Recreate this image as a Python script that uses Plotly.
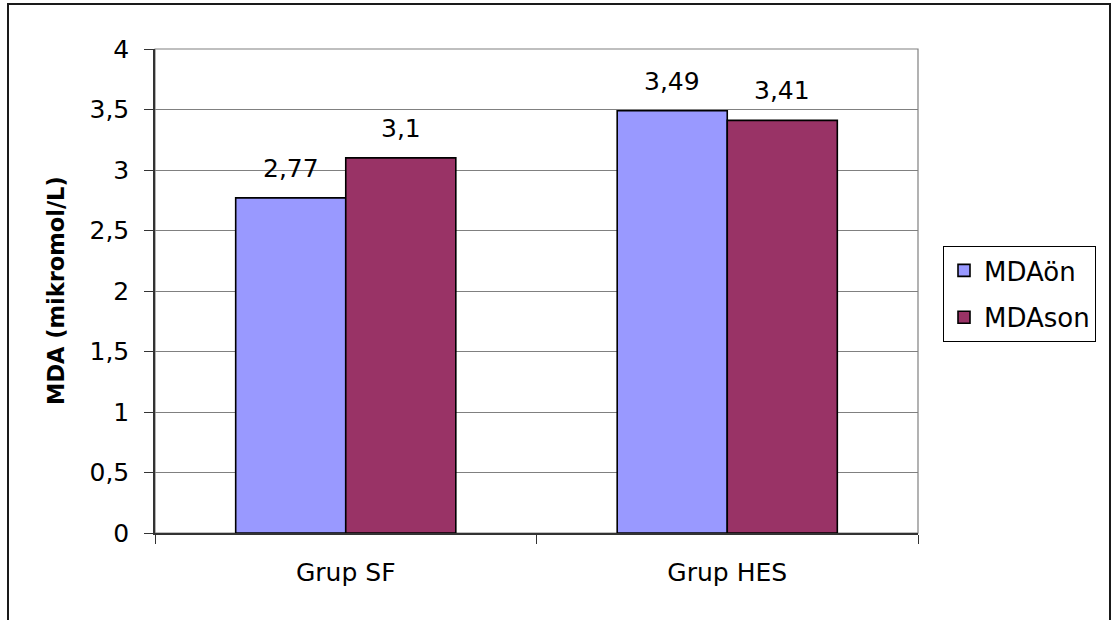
import plotly.graph_objects as go

# MDA levels (mikromol/L) before and after, per group
groups = ["Grup SF", "Grup HES"]
mda_on = [2.77, 3.49]
mda_son = [3.1, 3.41]
series_names = ["MDAön", "MDAson"]
series_colors = ["#9999FF", "#993366"]
y_ticks = [0, 0.5, 1, 1.5, 2, 2.5, 3, 3.5, 4]

FONT = "DejaVu Sans, Verdana, Arial, sans-serif"
BAR_GAP = 0.423

W, H = 1116, 620
ML, MR, MT, MB = 155, 198, 49, 87
PW, PH = W - ML - MR, H - MT - MB


def fmt(v):
    return f"{v:g}".replace(".", ",")


fig = go.Figure()
for i, (name, vals, col) in enumerate(zip(series_names, [mda_on, mda_son], series_colors)):
    fig.add_trace(go.Bar(
        x=groups, y=vals, name=name, legendgroup=name,
        marker=dict(color=col, line=dict(color="#000000", width=1.6)),
    ))

# value labels above each bar (bar centres follow the grouped-bar layout)
half = (1 - BAR_GAP) / 4
annotations = []
for s, vals in enumerate([mda_on, mda_son]):
    off = -half if s == 0 else half
    for gi, v in enumerate(vals):
        annotations.append(dict(
            x=gi + off, y=v, xref="x", yref="y", text=fmt(v), showarrow=False,
            yanchor="bottom", yshift=13, font=dict(family=FONT, size=25, color="#000000"),
        ))

# y axis title
annotations.append(dict(
    x=(56 - ML) / PW, y=0.5, xref="paper", yref="paper", text="<b>MDA (mikromol/L)</b>",
    textangle=-90, showarrow=False, xanchor="center", yanchor="middle",
    font=dict(family=FONT, size=22.5, color="#000000"),
))

shapes = [
    # plot area frame (grey)
    dict(type="rect", xref="paper", yref="paper", x0=0, x1=1, y0=0, y1=1,
         line=dict(color="#808080", width=1.2), layer="below"),
    # outer chart border
    dict(type="rect", xref="paper", yref="paper",
         x0=(8 - ML) / PW, x1=(1110 - ML) / PW,
         y0=(MT + PH - 630) / PH, y1=(MT + PH - 4) / PH,
         line=dict(color="#1a1a1a", width=2)),
]

fig.update_layout(
    width=W, height=H, autosize=False,
    margin=dict(l=ML, r=MR, t=MT, b=MB, pad=0),
    paper_bgcolor="#FFFFFF", plot_bgcolor="#FFFFFF",
    separators=", ",
    barmode="group", bargap=BAR_GAP, bargroupgap=0,
    font=dict(family=FONT, size=25, color="#000000"),
    showlegend=True,
    legend=dict(
        x=(943 - ML) / PW, y=(MT + PH - 246) / PH, xanchor="left", yanchor="top",
        bordercolor="#000000", borderwidth=1, bgcolor="#FFFFFF",
        font=dict(family=FONT, size=26, color="#000000"),
        traceorder="grouped", tracegroupgap=10,
    ),
    annotations=annotations,
    shapes=shapes,
)

fig.update_xaxes(
    type="category", showgrid=False, zeroline=False,
    showline=True, linecolor="#333333", linewidth=1.5,
    ticks="outside", tickson="boundaries", ticklen=9, tickcolor="#333333", tickwidth=1.2,
    ticklabelstandoff=16,
    tickfont=dict(family=FONT, size=25, color="#000000"),
)
fig.update_yaxes(
    range=[0, 4], tickvals=y_ticks, showgrid=True, gridcolor="#808080", gridwidth=1,
    zeroline=False, showline=True, linecolor="#333333", linewidth=1.5,
    ticks="outside", ticklen=9, tickcolor="#333333", tickwidth=1.2,
    ticklabelstandoff=10,
    tickfont=dict(family=FONT, size=25, color="#000000"),
)

fig.write_html("out.html")
